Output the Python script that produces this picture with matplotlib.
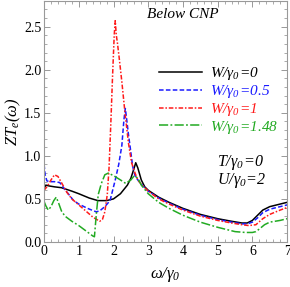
import matplotlib
matplotlib.use("Agg")
import matplotlib.pyplot as plt
from matplotlib.ticker import MultipleLocator, FormatStrFormatter

plt.rcParams['font.family'] = ['Liberation Serif', 'DejaVu Serif']
plt.rcParams['mathtext.fontset'] = 'custom'
plt.rcParams['mathtext.rm'] = 'Liberation Serif:italic'
plt.rcParams['mathtext.it'] = 'Liberation Serif:italic'

# W/gamma0 = 0
w_black = [0, 0.05, 0.15, 0.3, 0.5, 0.8, 1.0, 1.3, 1.55, 1.8, 2.0, 2.2, 2.4, 2.5, 2.58, 2.64, 2.7,
           2.8, 2.9, 3.0, 3.3, 3.6, 4.0, 4.5, 5.0, 5.4, 5.7, 5.85, 6.0, 6.15, 6.3, 6.5, 6.8, 7.0]
zt_black = [0.62, 0.66, 0.65, 0.64, 0.63, 0.59, 0.56, 0.51, 0.48, 0.48, 0.5, 0.56, 0.66, 0.74, 0.84,
            0.92, 0.86, 0.72, 0.64, 0.6, 0.52, 0.46, 0.39, 0.32, 0.27, 0.24, 0.22, 0.22, 0.25, 0.31,
            0.37, 0.41, 0.44, 0.46]

# W/gamma0 = 0.5
w_blue = [0, 0.03, 0.08, 0.15, 0.3, 0.45, 0.6, 0.85, 1.0, 1.25, 1.5, 1.6, 1.75, 1.9, 2.05, 2.15,
          2.24, 2.3, 2.34, 2.38, 2.43, 2.48, 2.55, 2.62, 2.7, 2.8, 3.0, 3.3, 3.6, 4.0, 4.5, 5.0,
          5.4, 5.7, 5.85, 6.0, 6.15, 6.3, 6.5, 6.8, 7.0]
zt_blue = [0.9, 0.78, 0.71, 0.70, 0.70, 0.69, 0.61, 0.48, 0.44, 0.39, 0.35, 0.36, 0.41, 0.48, 0.72,
           0.9, 1.12, 1.42, 1.55, 1.42, 1.25, 1.1, 0.88, 0.77, 0.72, 0.67, 0.59, 0.51, 0.45, 0.38,
           0.31, 0.26, 0.23, 0.21, 0.21, 0.23, 0.28, 0.34, 0.38, 0.41, 0.43]

# W/gamma0 = 1
w_red = [0, 0.1, 0.2, 0.3, 0.4, 0.5, 0.65, 0.8, 1.0, 1.2, 1.4, 1.6, 1.68, 1.75, 1.82, 1.87, 1.92,
         1.97, 2.02, 2.05, 2.08, 2.11, 2.16, 2.24, 2.33, 2.43, 2.52, 2.62, 2.7, 2.8, 3.0, 3.3, 3.6,
         4.0, 4.5, 5.0, 5.4, 5.7, 5.9, 6.1, 6.3, 6.5, 6.8, 7.0]
zt_red = [0.6, 0.65, 0.72, 0.78, 0.76, 0.69, 0.58, 0.5, 0.43, 0.36, 0.29, 0.24, 0.26, 0.35, 0.55,
          0.85, 1.35, 1.9, 2.4, 2.57, 2.4, 2.32, 2.15, 1.86, 1.5, 1.15, 0.92, 0.8, 0.72, 0.67,
          0.59, 0.5, 0.44, 0.37, 0.3, 0.25, 0.22, 0.2, 0.19, 0.2, 0.27, 0.32, 0.37, 0.4]

# W/gamma0 = 1.48
w_green = [0, 0.05, 0.12, 0.2, 0.28, 0.35, 0.42, 0.5, 0.6, 0.8, 1.0, 1.2, 1.4, 1.45, 1.5, 1.56,
           1.65, 1.75, 1.85, 2.0, 2.2, 2.35, 2.5, 2.6, 2.7, 2.8, 3.0, 3.3, 3.6, 4.0, 4.5, 5.0,
           5.5, 5.8, 6.0, 6.1, 6.2, 6.35, 6.5, 6.8, 7.0]
zt_green = [0.47, 0.42, 0.37, 0.41, 0.48, 0.52, 0.45, 0.36, 0.3, 0.24, 0.19, 0.13, 0.07, 0.06,
            0.3, 0.55, 0.68, 0.78, 0.8, 0.77, 0.72, 0.68, 0.72, 0.77, 0.74, 0.66, 0.56, 0.46,
            0.39, 0.31, 0.23, 0.17, 0.12, 0.11, 0.11, 0.12, 0.15, 0.2, 0.23, 0.25, 0.27]

labels = [r'$W/\gamma_0\!=\!0$', r'$W/\gamma_0\!=\!0.5$', r'$W/\gamma_0\!=\!1$',
          r'$W/\gamma_0\!=\!1.48$']

fig = plt.figure(figsize=(2.9, 2.87), dpi=100)
ax = fig.add_axes([0.152, 0.157, 0.838, 0.84])

lw = 1.1
ax.plot(w_black, zt_black, color='black', lw=lw, label=labels[0])
ax.plot(w_blue, zt_blue, color='#1a1aff', lw=lw, ls=(0, (3, 1.5)), label=labels[1])
ax.plot(w_red, zt_red, color='#ff1a1a', lw=lw, ls=(0, (3, 1.2, 1, 1.2)), label=labels[2])
ax.plot(w_green, zt_green, color='#22aa22', lw=lw, ls=(0, (6, 1.5, 1.2, 1.5)), label=labels[3])

ax.set_xlim(0, 7)
ax.set_ylim(0, 2.8)
ax.xaxis.set_major_locator(MultipleLocator(1))
ax.xaxis.set_minor_locator(MultipleLocator(0.2))
ax.yaxis.set_major_locator(MultipleLocator(0.5))
ax.yaxis.set_minor_locator(MultipleLocator(0.1))
ax.yaxis.set_major_formatter(FormatStrFormatter('%.1f'))
ax.tick_params(which='both', direction='in', top=True, right=True, labelsize=10,
               color='#888888', pad=2)
ax.tick_params(which='major', length=4, width=0.6)
ax.tick_params(which='minor', length=2, width=0.5)
for s in ax.spines.values():
    s.set_color('#999999')
    s.set_linewidth(0.8)

ax.set_xlabel(r'$\omega/\gamma_0$', fontsize=12, labelpad=5)
ax.set_ylabel(r'$ZT_e(\omega)$', fontsize=12, labelpad=1)

ax.text(0.425, 0.945, 'Below CNP', transform=ax.transAxes, fontsize=11, style='italic',
        ha='left', va='center')
ax.text(0.71, 0.33, r'$T/\gamma_0\!=\!0$', transform=ax.transAxes, fontsize=11.5,
        ha='left', va='center')
ax.text(0.71, 0.255, r'$U/\gamma_0\!=\!2$', transform=ax.transAxes, fontsize=11.5,
        ha='left', va='center')

leg = ax.legend(loc='upper right', bbox_to_anchor=(1.0, 0.77), frameon=False, fontsize=11,
                handlelength=2.8, handletextpad=0.5, labelspacing=0.05, borderaxespad=0.2,
                labelcolor='linecolor')

fig.savefig('out.png', dpi=100)
